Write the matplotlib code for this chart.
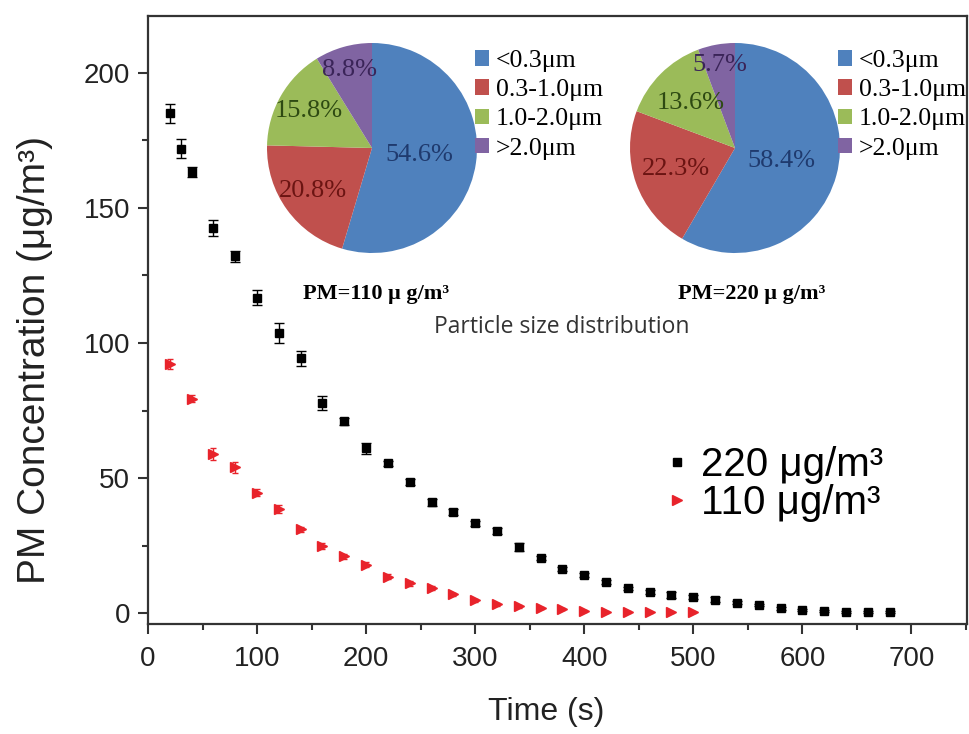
import numpy as np
import matplotlib.pyplot as plt
from matplotlib.lines import Line2D
from matplotlib.ticker import MultipleLocator

plt.rcParams['font.family'] = ['Liberation Sans', 'DejaVu Sans']

# PM decay, 220 ug/m3 starting level
t_220 = [20, 30, 40, 60, 80, 100, 120, 140, 160, 180, 200, 220, 240, 260, 280,
         300, 320, 340, 360, 380, 400, 420, 440, 460, 480, 500, 520, 540, 560,
         580, 600, 620, 640, 660, 680]
pm_220 = [185, 171.8, 163.3, 142.6, 132, 116.7, 103.6, 94.4, 77.8, 71, 61, 55.5,
          48.5, 41, 37.4, 33.3, 30.4, 24.4, 20.4, 16.3, 14, 11.5, 9.2, 7.8, 6.7,
          6, 5, 3.9, 3, 1.8, 1.1, 0.8, 0.4, 0.4, 0.4]
err_220 = [3.5, 3.5, 1.8, 3, 2.2, 2.8, 3.7, 2.8, 2.6, 1.4, 2, 1, 1, 1.2, 1.2,
           1, 1, 1.5, 0.8, 0.8, 0.7, 0.7, 0.6, 0.6, 1, 0.8, 1, 0.6, 0.5, 0.5,
           0.4, 0.3, 0.3, 0.3, 0.3]

# PM decay, 110 ug/m3 starting level
t_110 = [20, 40, 60, 80, 100, 120, 140, 160, 180, 200, 220, 240, 260, 280, 300,
         320, 340, 360, 380, 400, 420, 440, 460, 480, 500]
pm_110 = [92.3, 79.4, 59, 54, 44.6, 38.6, 31, 24.8, 21, 18, 13.5, 11, 9.3, 7,
          4.8, 3.3, 2.6, 1.8, 1.5, 0.9, 0.5, 0.4, 0.3, 0.3, 0.3]
err_110 = [1.8, 1.3, 2.3, 2, 1.3, 1.6, 1, 1, 0.8, 0.8, 1, 0.8, 0.7, 0.6, 0.6,
           0.5, 0.5, 0.4, 0.4, 0.3, 0.3, 0.3, 0.2, 0.2, 0.2]

# particle size distribution
size_bins = ['<0.3\u03bcm', '0.3-1.0\u03bcm', '1.0-2.0\u03bcm', '>2.0\u03bcm']
share_110 = [54.6, 20.8, 15.8, 8.8]
share_220 = [58.4, 22.3, 13.6, 5.7]

pie_colors = ['#4F81BD', '#C0504D', '#9BBB59', '#8064A2']
pct_colors = ['#1F3A6E', '#6B1412', '#2E4A12', '#3A2458']

fig = plt.figure(figsize=(9.69, 7.34), dpi=100)
ax = fig.add_axes([148 / 969, 1 - 624 / 734, 819 / 969, 608 / 734])

ax.errorbar(t_220, pm_220, yerr=err_220, fmt='s', color='black', ms=5.5,
            capsize=3.5, elinewidth=1, capthick=1)
ax.errorbar(t_110, pm_110, yerr=err_110, fmt='>', color='#E8232B', ms=7,
            capsize=2.5, elinewidth=1, capthick=1)

ax.set_xlim(0, 751)
ax.set_ylim(-4, 221)
ax.xaxis.set_major_locator(MultipleLocator(100))
ax.xaxis.set_minor_locator(MultipleLocator(50))
ax.yaxis.set_major_locator(MultipleLocator(50))
ax.yaxis.set_minor_locator(MultipleLocator(25))
ax.tick_params(which='major', direction='out', length=7, width=1.5,
               labelsize=20, colors='#333333', labelcolor='#222222', pad=6)
ax.tick_params(axis='x', which='major', pad=9)
ax.tick_params(which='minor', direction='out', length=4, width=1.5,
               colors='#333333')
for sp in ax.spines.values():
    sp.set_linewidth(1.6)
    sp.set_color('#333333')

ax.set_xlabel('Time (s)', fontsize=23, color='#222222', va='center')
ax.xaxis.set_label_coords(0.486, -0.145)
ax.set_ylabel('PM Concentration (\u03bcg/m\u00b3)', fontsize=28,
              color='#222222', va='center')
ax.yaxis.set_label_coords(-0.138, 0.434)

handles = [Line2D([], [], ls='none', marker='s', color='black', ms=6),
           Line2D([], [], ls='none', marker='>', color='#E8232B', ms=7)]
ax.legend(handles, ['220 \u03bcg/m\u00b3', '110 \u03bcg/m\u00b3'],
          loc='upper left', bbox_to_anchor=(665 / 969, 1 - 446 / 734),
          bbox_transform=fig.transFigure, frameon=False, fontsize=29,
          handlelength=0.6, handletextpad=0.3, labelspacing=0.0,
          borderpad=0, borderaxespad=0)


def draw_pie(left, shares, title, label_dist, title_x):
    pax = fig.add_axes([left / 969, 1 - 253 / 734, 210 / 969, 210 / 734])
    wedges, _ = pax.pie(shares, colors=pie_colors, startangle=90,
                        counterclock=False, radius=1)
    pax.set_xlim(-1, 1)
    pax.set_ylim(-1, 1)
    pax.set_aspect('equal')
    for w, val, d, c in zip(wedges, shares, label_dist, pct_colors):
        ang = np.deg2rad((w.theta1 + w.theta2) / 2)
        pax.text(d * np.cos(ang), d * np.sin(ang), f'{val}%', ha='center',
                 va='center', fontsize=19, color=c, family='Liberation Serif')
    pax.legend(wedges, size_bins, loc='upper left',
               bbox_to_anchor=((left + 208) / 969, 1 - 50 / 734),
               bbox_transform=fig.transFigure, frameon=False,
               prop={'family': 'Liberation Serif', 'size': 18.5},
               handlelength=0.55, handleheight=0.55, handletextpad=0.25,
               labelspacing=0.28, borderpad=0, borderaxespad=0)
    fig.text(title_x / 969, 1 - 294 / 734, title, ha='center',
             va='center', fontsize=16, fontweight='bold',
             family='Liberation Serif')


draw_pie(267, share_110, 'PM=110 \u03bc g/m\u00b3', [0.46, 0.7, 0.7, 0.77], 376)
draw_pie(630, share_220, 'PM=220 \u03bc g/m\u00b3', [0.46, 0.6, 0.6, 0.8], 752)

fig.text(562 / 969, 1 - 327 / 734, 'Particle size distribution', ha='center',
         va='center', fontsize=16.5, family='Open Sans', color='#333333')

fig.savefig('out.png', dpi=100)
